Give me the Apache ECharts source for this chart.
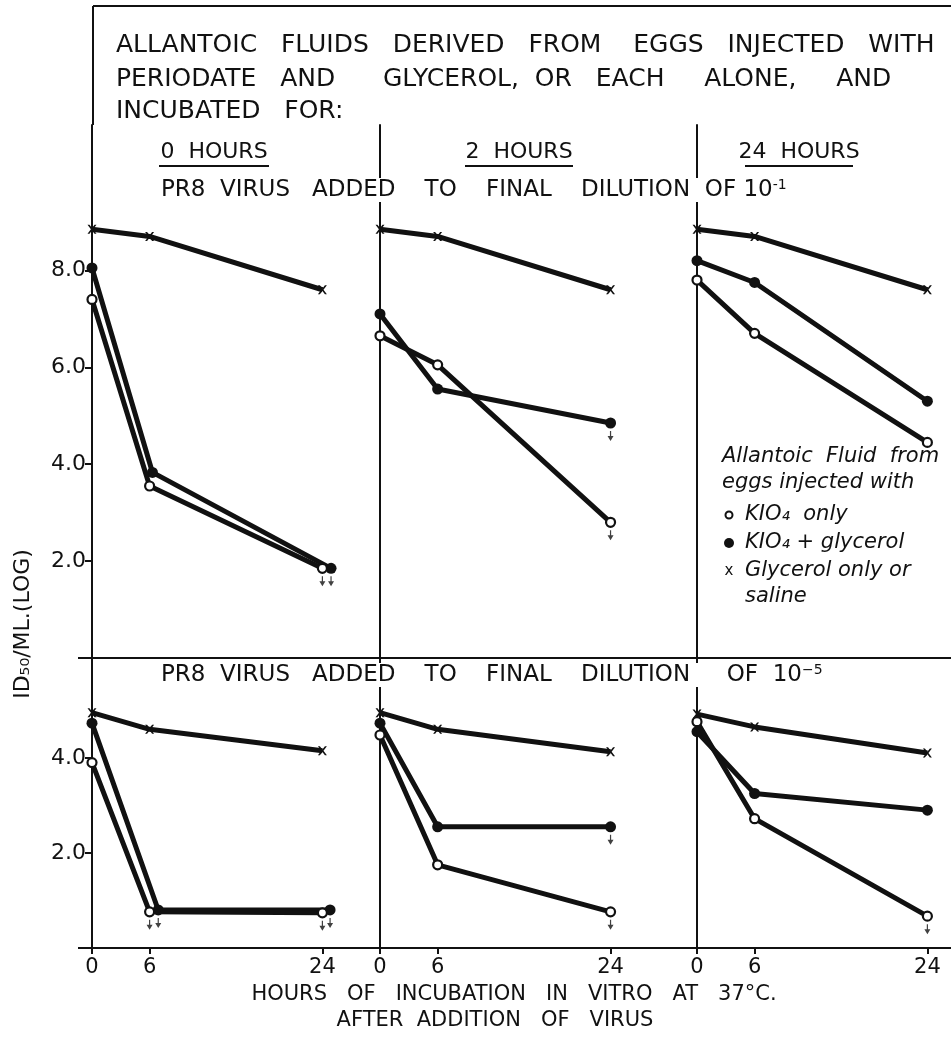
<!DOCTYPE html>
<html lang="en">
<head>
<meta charset="UTF-8">
<title>ID50 of PR8 virus in allantoic fluids</title>
<script src="https://cdn.jsdelivr.net/npm/echarts@6/dist/echarts.min.js"></script>
<style>
    html,body{margin:0;padding:0;background:#fff}
    #chart{width:951px;height:1038px}
</style>
</head>
<body>
<div id="chart"></div>
<script>
/*
 * data (log ID50 per ml)
 * one inner array per panel: 0 h, 2 h, 24 h incubation of the fluid
 */
var hours = [0, 6, 24];
var hourTicks = [0, 6, 24];
var panelNames = ['0  HOURS', '2  HOURS', '24  HOURS'];

// virus added to final dilution 10^-1
var hiOpen   = [[7.4, 3.55, 1.85], [6.65, 6.05, 2.8], [7.8, 6.7, 4.45]];
var hiFilled = [[8.05, 3.83, 1.85], [7.1, 5.55, 4.85], [8.2, 7.75, 5.3]];
var hiCross  = [[8.85, 8.7, 7.6], [8.85, 8.7, 7.6], [8.85, 8.7, 7.6]];
// "less than" arrows under the point
var hiOpenLess   = [[0, 0, 1], [0, 0, 1], [0, 0, 0]];
var hiFilledLess = [[0, 0, 1], [0, 0, 1], [0, 0, 0]];
// filled circles drawn beside the open ones where they coincide (hours)
var hiFilledDodge = [[0, 0.3, 0.9], [0, 0, 0], [0, 0, 0]];

// virus added to final dilution 10^-5
var loOpen   = [[3.9, 0.76, 0.74], [4.48, 1.75, 0.76], [4.76, 2.72, 0.67]];
var loFilled = [[4.73, 0.8, 0.8], [4.73, 2.55, 2.55], [4.55, 3.25, 2.9]];
var loCross  = [[4.95, 4.6, 4.15], [4.95, 4.6, 4.13], [4.92, 4.65, 4.1]];
var loOpenLess   = [[0, 1, 1], [0, 0, 1], [0, 0, 1]];
var loFilledLess = [[0, 1, 1], [0, 0, 1], [0, 0, 0]];
var loFilledDodge = [[0, 0.9, 0.8], [0, 0, 0], [0, 0, 0]];

var hiTicks = [2, 4, 6, 8];
var loTicks = [2, 4];

/*
 * layout
 */
var FONT = '"DejaVu Sans",sans-serif';
var ITAL = 'italic 21px "DejaVu Sans",sans-serif';
var INK = '#111';
var colLeft = [92, 380, 697];
var colWidth = [288, 317, 254];
var colMax = [30, 33, 26.46];   // hours shown across each panel
var rows = [
    {top: 125, height: 533, max: 11, ticks: hiTicks,
     open: hiOpen, filled: hiFilled, cross: hiCross,
     openLess: hiOpenLess, filledLess: hiFilledLess, dodge: hiFilledDodge},
    {top: 658, height: 290, max: 6.1, ticks: loTicks,
     open: loOpen, filled: loFilled, cross: loCross,
     openLess: loOpenLess, filledLess: loFilledLess, dodge: loFilledDodge}
];

var crossPath = 'path://M0,0L2.2,0L5,3.6L7.8,0L10,0L6.2,5L10,10L7.8,10L5,6.4L2.2,10L0,10L3.8,5Z';
var arrowPath = 'path://M4,0L6,0L6,6L10,6L5,12L0,6L4,6Z';

var grids = [], xAxes = [], yAxes = [], series = [];

function pts(vals, dodge){
    var out = [];
    for (var i = 0; i < hours.length; i++) {
        out.push([hours[i] + (dodge ? dodge[i] : 0), vals[i]]);
    }
    return out;
}
function lessPts(vals, flags, dodge){
    var out = [];
    for (var i = 0; i < hours.length; i++) {
        if (flags[i]) out.push([hours[i] + (dodge ? dodge[i] : 0), vals[i]]);
    }
    return out;
}

for (var r = 0; r < rows.length; r++) {
    var row = rows[r];
    for (var c = 0; c < 3; c++) {
        var gi = r * 3 + c;
        grids.push({left: colLeft[c], width: colWidth[c], top: row.top, height: row.height});
        xAxes.push({
            type: 'value', gridIndex: gi, min: 0, max: colMax[c],
            axisLine: {show: true, onZero: false, lineStyle: {color: INK, width: 2}},
            axisTick: {show: r == 1, customValues: hourTicks, length: 6, lineStyle: {color: INK, width: 2}},
            axisLabel: {show: r == 1, customValues: hourTicks, color: INK, fontSize: 21,
                        fontFamily: FONT, margin: 9},
            splitLine: {show: false}
        });
        yAxes.push({
            type: 'value', gridIndex: gi, min: 0, max: row.max,
            axisLine: {show: true, onZero: false, lineStyle: {color: INK, width: 2}},
            axisTick: {show: c == 0, customValues: row.ticks, length: 7, lineStyle: {color: INK, width: 2}},
            axisLabel: {show: c == 0, customValues: row.ticks, color: INK, fontSize: 22,
                        fontFamily: FONT, margin: 6,
                        formatter: function(v){ return v.toFixed(1); }},
            splitLine: {show: false}
        });
        var base = {type: 'line', xAxisIndex: gi, yAxisIndex: gi, clip: false,
                    lineStyle: {color: INK, width: 5}, animation: false};
        series.push(Object.assign({}, base, {
            name: 'Glycerol only or saline', data: pts(row.cross[c]), z: 3,
            symbol: crossPath, symbolSize: 9, itemStyle: {color: INK}
        }));
        series.push(Object.assign({}, base, {
            name: 'KIO4 + glycerol', data: pts(row.filled[c], row.dodge[c]), z: 4,
            symbol: 'circle', symbolSize: 11, itemStyle: {color: INK}
        }));
        series.push(Object.assign({}, base, {
            name: 'KIO4 only', data: pts(row.open[c]), z: 5,
            symbol: 'circle', symbolSize: 9,
            itemStyle: {color: '#fff', borderColor: INK, borderWidth: 2.2}
        }));
        series.push({
            type: 'scatter', name: 'less than', xAxisIndex: gi, yAxisIndex: gi, z: 6,
            data: lessPts(row.open[c], row.openLess[c]).concat(
                  lessPts(row.filled[c], row.filledLess[c], row.dodge[c])),
            symbol: arrowPath, symbolSize: [6, 10], symbolOffset: [0, 13],
            itemStyle: {color: INK}, animation: false, silent: true
        });
    }
}

/*
 * text and frame
 */
var graphic = [];
function line(x1, y1, x2, y2, w){
    graphic.push({type: 'line', z: 1, shape: {x1: x1, y1: y1, x2: x2, y2: y2},
                  style: {stroke: INK, lineWidth: w || 2}});
}
function text(t, x, y, size, opt){
    var st = {text: t, x: x, y: y, font: size + 'px ' + FONT, fill: INK,
              textAlign: 'left', textVerticalAlign: 'middle'};
    for (var k in (opt || {})) st[k] = opt[k];
    graphic.push({type: 'text', z: 20, style: st});
}

// frame round the title and the horizontal lines run out to the left
line(93, 6, 951, 6);
line(93, 6, 93, 125);
line(78, 658, 92, 658);
line(78, 948, 92, 948);

text('ALLANTOIC   FLUIDS   DERIVED   FROM    EGGS   INJECTED   WITH', 116, 45, 25);
text('PERIODATE   AND      GLYCEROL,  OR   EACH     ALONE,     AND', 116, 79, 25);
text('INCUBATED   FOR:', 116, 111, 25);

var headCenter = [214, 519, 799];
var headWidth = [110, 108, 108];
for (var h = 0; h < 3; h++) {
    text(panelNames[h], headCenter[h], 152, 22, {textAlign: 'center'});
    line(headCenter[h] - headWidth[h] / 2, 166, headCenter[h] + headWidth[h] / 2, 166, 2);
}

// white box behind these lines breaks the panel dividers, as in the figure
var supRich = {s: {font: '14px ' + FONT, fill: INK, verticalAlign: 'top', lineHeight: 24}};
text('PR8  VIRUS   ADDED    TO    FINAL    DILUTION  OF 10{s|-1}', 158, 190, 23,
     {rich: supRich, backgroundColor: '#fff', padding: [0, 3], lineHeight: 24});
text('PR8  VIRUS   ADDED    TO    FINAL    DILUTION     OF  10{s|−5}', 158, 675, 23,
     {rich: supRich, backgroundColor: '#fff', padding: [0, 3], lineHeight: 24});

text('HOURS   OF   INCUBATION   IN   VITRO   AT   37°C.', 514, 995, 21, {textAlign: 'center'});
text('AFTER  ADDITION   OF   VIRUS', 495, 1021, 21, {textAlign: 'center'});

graphic.push({type: 'text', z: 20, x: 23, y: 624, rotation: Math.PI / 2,
              style: {text: 'ID₅₀/ML.(LOG)', font: '22px ' + FONT, fill: INK,
                      textAlign: 'center', textVerticalAlign: 'middle'}});

// key
graphic.push({type: 'text', z: 20, style: {text: 'Allantoic  Fluid  from', x: 722, y: 457, font: ITAL,
              fill: INK, textVerticalAlign: 'middle'}});
graphic.push({type: 'text', z: 20, style: {text: 'eggs injected with', x: 722, y: 483, font: ITAL,
              fill: INK, textVerticalAlign: 'middle'}});
var keyRows = [
    {label: 'KIO₄  only', y: 515, kind: 'open'},
    {label: 'KIO₄ + glycerol', y: 543, kind: 'filled'},
    {label: 'Glycerol only or', y: 571, kind: 'cross'},
    {label: 'saline', y: 597, kind: 'none'}
];
keyRows.forEach(function(k){
    if (k.kind == 'open') {
        graphic.push({type: 'circle', z: 20, shape: {cx: 729, cy: k.y, r: 3.5},
                      style: {fill: '#fff', stroke: INK, lineWidth: 2}});
    } else if (k.kind == 'filled') {
        graphic.push({type: 'circle', z: 20, shape: {cx: 729, cy: k.y, r: 5}, style: {fill: INK}});
    } else if (k.kind == 'cross') {
        graphic.push({type: 'text', z: 20, style: {text: 'x', x: 729, y: k.y, font: '15px "DejaVu Sans",sans-serif',
                      fill: INK, textAlign: 'center', textVerticalAlign: 'middle'}});
    }
    graphic.push({type: 'text', z: 20, style: {text: k.label, x: 745, y: k.y, font: ITAL, fill: INK,
                  textVerticalAlign: 'middle'}});
});

var chart = echarts.init(document.getElementById('chart'));
chart.setOption({
    backgroundColor: '#fff',
    animation: false,
    grid: grids,
    xAxis: xAxes,
    yAxis: yAxes,
    series: series,
    graphic: graphic
});
</script>
</body>
</html>
